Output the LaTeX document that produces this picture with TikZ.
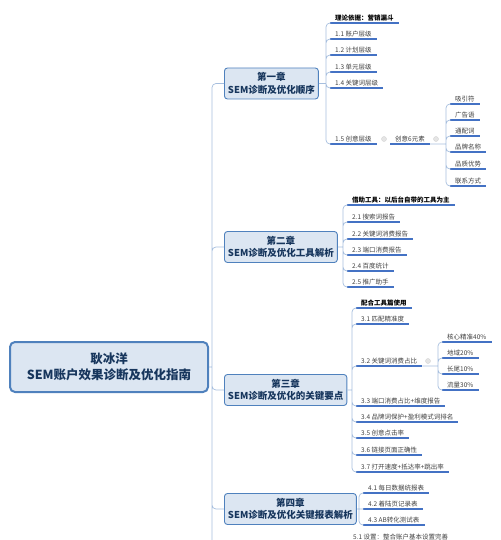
\documentclass[tikz,border=0pt]{standalone}
\usepackage{fontspec}
\setmainfont{Noto Sans CJK SC}
\usepackage{xcolor}
\usepackage{tikz}
\usetikzlibrary{positioning}
\definecolor{boxfill}{RGB}{220,230,242}
\definecolor{boxline}{RGB}{79,129,189}
\definecolor{boxtext}{RGB}{23,54,93}
\definecolor{ulblue}{RGB}{68,114,196}
\definecolor{linkgray}{RGB}{166,190,222}
\definecolor{itemtext}{RGB}{64,64,64}

\begin{document}
\begin{tikzpicture}[x=1pt, y=-1pt,
  root/.style={draw=boxline,fill=boxfill,text=boxtext,line width=2pt,rounded corners=5pt,
    align=center,minimum width=198pt,minimum height=50pt,anchor=west,
    font=\fontsize{12.5}{16}\selectfont\bfseries},
  chap/.style={draw=boxline,fill=boxfill,text=boxtext,line width=0.9pt,rounded corners=3pt,
    align=center,inner xsep=3.5pt,minimum height=31pt,anchor=west,
    font=\fontsize{9.5}{12.5}\selectfont\bfseries},
  item/.style={anchor=south west,inner xsep=0pt,inner ysep=1.5pt,text=itemtext,
    font=\fontsize{6.5}{7}\selectfont,
    execute at begin node={\hspace*{9pt}},execute at end node={\hspace*{5pt}},
    append after command={([xshift=4pt]\tikzlastnode.south west) edge[uline] (\tikzlastnode.south east)}},
  head/.style={item,text=black,font=\fontsize{6.5}{7}\selectfont\bfseries},
  uline/.style={draw=ulblue,line width=1.2pt},
  link/.style={draw=linkgray,line width=0.7pt,rounded corners=4pt},
  fold/.style={circle,draw=gray!35,fill=gray!20,inner sep=0pt,minimum size=5pt}]
  \useasboundingbox (0,0) rectangle (500,540);
  \clip (0,0) rectangle (500,540);

  \node[root] (root) at (9,367) {耿冰洋\\SEM账户效果诊断及优化指南};
  \node[chap] (ch1) at (224,83.5) {第一章\\SEM诊断及优化顺序};
  \node[chap] (ch2) at (224,247) {第二章\\SEM诊断及优化工具解析};
  \node[chap] (ch3) at (224,390) {第三章\\SEM诊断及优化的关键要点};
  \node[chap] (ch4) at (224,509) {第四章\\SEM诊断及优化关键报表解析};
  \coordinate (trunk) at (212,367);
  \coordinate (end5) at (212,545);

  % chapter 1
  \coordinate (b1) at (326,83.5);
  \node[head] (t1) at (326,23) {理论依据：营销漏斗};
  \node[item] (i11) at (326,39) {1.1 账户层级};
  \node[item] (i12) at (326,55) {1.2 计划层级};
  \node[item] (i13) at (326,72) {1.3 单元层级};
  \node[item] (i14) at (326,88) {1.4 关键词层级};
  \node[item] (i15) at (326,144) {1.5 创意层级};
  \node[fold] (f15) at (384,139) {};
  \node[item] (c6) at (386,144) {创意6元素};
  \node[fold] (f6) at (436,139) {};
  \coordinate (b6) at (446,144);
  \node[item] (e1) at (446,104) {吸引符};
  \node[item] (e2) at (446,120) {广告语};
  \node[item] (e3) at (446,136) {通配词};
  \node[item] (e4) at (446,152) {品牌名称};
  \node[item] (e5) at (446,169) {品质优势};
  \node[item] (e6) at (446,186) {联系方式};

  % chapter 2
  \coordinate (b2) at (343,247);
  \node[head] (t2) at (343,205) {借助工具：以后台自带的工具为主};
  \node[item] (i21) at (343,222) {2.1 搜索词报告};
  \node[item] (i22) at (343,239) {2.2 关键词消费报告};
  \node[item] (i23) at (343,255) {2.3 端口消费报告};
  \node[item] (i24) at (343,271) {2.4 百度统计};
  \node[item] (i25) at (343,287) {2.5 推广助手};

  % chapter 3
  \coordinate (b3) at (352,390);
  \node[head] (t3) at (352,308) {配合工具篇使用};
  \node[item] (i31) at (352,324) {3.1 匹配精准度};
  \node[item] (i32) at (352,366) {3.2 关键词消费占比};
  \node[item] (i33) at (352,406) {3.3 端口消费占比+维度报告};
  \node[item] (i34) at (352,422) {3.4 品牌词保护+盈利模式词排名};
  \node[item] (i35) at (352,438) {3.5 创意点击率};
  \node[item] (i36) at (352,455) {3.6 链接页面正确性};
  \node[item] (i37) at (352,472) {3.7 打开速度+抵达率+跳出率};
  \node[fold] (f32) at (428,361) {};
  \coordinate (b32) at (438,366);
  \node[item] (k1) at (438,342) {核心精准40\%};
  \node[item] (k2) at (438,358) {地域20\%};
  \node[item] (k3) at (438,374) {长尾10\%};
  \node[item] (k4) at (438,390) {流量30\%};

  % chapter 4
  \coordinate (b4) at (359,509);
  \node[item] (i41) at (359,493) {4.1 每日数据统报表};
  \node[item] (i42) at (359,509) {4.2 着陆页记录表};
  \node[item] (i43) at (359,525) {4.3 AB转化测试表};
  \node[item] (i51) at (344,541.5) {5.1 设置：整合账户基本设置完善};

  \draw[link] (root.east) -- (trunk) (trunk) |- (ch1.west) (trunk) |- (ch2.west)
    (trunk) |- (ch3.west) (trunk) |- (ch4.west) (trunk) -- (end5);
  \draw[link] (ch1.east) -- (b1) (b1) |- ([xshift=5pt]t1.south west)
    (b1) |- ([xshift=5pt]i11.south west) (b1) |- ([xshift=5pt]i12.south west)
    (b1) |- ([xshift=5pt]i13.south west) (b1) |- ([xshift=5pt]i14.south west)
    (b1) |- ([xshift=5pt]i15.south west);
  \draw[link] (c6.south east) -- (b6) (b6) |- ([xshift=5pt]e1.south west)
    (b6) |- ([xshift=5pt]e2.south west) (b6) |- ([xshift=5pt]e3.south west)
    (b6) |- ([xshift=5pt]e4.south west) (b6) |- ([xshift=5pt]e5.south west)
    (b6) |- ([xshift=5pt]e6.south west);
  \draw[link] (ch2.east) -- (b2) (b2) |- ([xshift=5pt]t2.south west)
    (b2) |- ([xshift=5pt]i21.south west) (b2) |- ([xshift=5pt]i22.south west)
    (b2) |- ([xshift=5pt]i23.south west) (b2) |- ([xshift=5pt]i24.south west)
    (b2) |- ([xshift=5pt]i25.south west);
  \draw[link] (ch3.east) -- (b3) (b3) |- ([xshift=5pt]t3.south west)
    (b3) |- ([xshift=5pt]i31.south west) (b3) |- ([xshift=5pt]i32.south west)
    (b3) |- ([xshift=5pt]i33.south west) (b3) |- ([xshift=5pt]i34.south west)
    (b3) |- ([xshift=5pt]i35.south west) (b3) |- ([xshift=5pt]i36.south west)
    (b3) |- ([xshift=5pt]i37.south west);
  \draw[link] (i32.south east) -- (b32) (b32) |- ([xshift=5pt]k1.south west)
    (b32) |- ([xshift=5pt]k2.south west) (b32) |- ([xshift=5pt]k3.south west)
    (b32) |- ([xshift=5pt]k4.south west);
  \draw[link] (ch4.east) -- (b4) (b4) |- ([xshift=5pt]i41.south west)
    (b4) -- ([xshift=5pt]i42.south west) (b4) |- ([xshift=5pt]i43.south west);
\end{tikzpicture}
\end{document}
